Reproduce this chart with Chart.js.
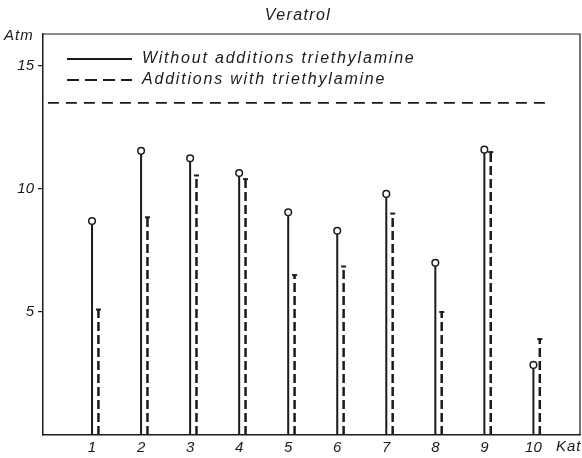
<!DOCTYPE html>
<html>
<head>
<meta charset="utf-8">
<script src="https://cdn.jsdelivr.net/npm/chart.js@4"></script>
<style>
  body { margin: 0; background: #fff; }
  #wrap { width: 582px; height: 458px; position: relative; }
</style>
</head>
<body>
<div id="wrap"><canvas id="myChart"></canvas></div>
<script>
// catalyst numbers and pressures (Atm)
var kats = [1, 2, 3, 4, 5, 6, 7, 8, 9, 10];
var withoutAdd = [8.7, 11.55, 11.25, 10.65, 9.05, 8.3, 9.8, 7.0, 11.6, 2.85];
var withTea = [5.1, 8.85, 10.55, 10.4, 6.5, 6.85, 9.0, 5.0, 11.5, 3.9];
var yTicks = [5, 10, 15];
var limitLine = 13.5;

var ink = '#1b1b1b';
var fontFamily = '"Liberation Sans", Arial, sans-serif';

// each stem is a vertical segment from 0 up to the value, split by a null point
var stems = function(values, shift) {
    var pts = [];
    for (var i = 0; i < kats.length; i++) {
        pts.push({x: kats[i] + shift, y: 0});
        pts.push({x: kats[i] + shift, y: values[i]});
        pts.push({x: kats[i] + shift, y: null});
    }
    return pts;
};

var topOnly = function(r) {
    return function(c) { return c.dataIndex % 3 === 1 ? r : 0; };
};

// title, axis names, frame and the legend inside the plot
var decor = {
    id: 'decor',
    afterDraw: function(chart) {
        var ctx = chart.ctx;
        var a = chart.chartArea;
        ctx.save();
        ctx.strokeStyle = ink;
        ctx.lineWidth = 1.2;
        ctx.beginPath();
        ctx.moveTo(a.left, a.top);
        ctx.lineTo(a.right, a.top);
        ctx.lineTo(a.right, a.bottom);
        ctx.stroke();

        ctx.fillStyle = ink;
        ctx.font = 'italic 16px ' + fontFamily;
        ctx.letterSpacing = '1.4px';
        ctx.textBaseline = 'middle';
        ctx.textAlign = 'center';
        ctx.fillText('Veratrol', 298, 16);
        ctx.font = 'italic 15px ' + fontFamily;
        ctx.letterSpacing = '1px';
        ctx.textAlign = 'left';
        ctx.fillText('Atm', 4, 36);
        ctx.fillText('Kat', 556, 447);

        // legend
        ctx.lineWidth = 2;
        ctx.beginPath();
        ctx.moveTo(67, 59);
        ctx.lineTo(132, 59);
        ctx.stroke();
        ctx.setLineDash([12, 6]);
        ctx.beginPath();
        ctx.moveTo(67, 80);
        ctx.lineTo(132, 80);
        ctx.stroke();
        ctx.setLineDash([]);
        ctx.font = 'italic 16px ' + fontFamily;
        ctx.letterSpacing = '1.8px';
        ctx.fillText('Without additions triethylamine', 142, 59);
        ctx.fillText('Additions with triethylamine', 142, 80);
        ctx.restore();
    }
};

var ctx = document.getElementById('myChart').getContext('2d');
var chart = new Chart(ctx, {
    type: 'line',
    data: {
        datasets: [{
            label: 'Without additions triethylamine',
            data: stems(withoutAdd, 0),
            borderColor: ink,
            borderWidth: 2,
            pointRadius: topOnly(3.3),
            pointBackgroundColor: '#fff',
            pointBorderColor: ink,
            pointBorderWidth: 1.5,
            spanGaps: false
        }, {
            label: 'Additions with triethylamine',
            data: stems(withTea, 0.13),
            borderColor: ink,
            borderWidth: 2.5,
            borderDash: [9, 4],
            pointStyle: 'line',
            pointRadius: topOnly(2.5),
            pointBorderColor: ink,
            pointBorderWidth: 2,
            spanGaps: false
        }, {
            label: 'limit',
            data: [{x: 0.1, y: limitLine}, {x: 10.25, y: limitLine}],
            borderColor: ink,
            borderWidth: 1.6,
            borderDash: [11, 7],
            pointRadius: 0
        }]
    },
    options: {
        responsive: true,
        maintainAspectRatio: false,
        animation: false,
        layout: { padding: { top: 34, right: 2, left: 0, bottom: 0 } },
        plugins: {
            legend: { display: false },
            title: { display: false },
            tooltip: { enabled: false }
        },
        scales: {
            x: {
                type: 'linear',
                min: 0,
                max: 10.95,
                afterFit: function(s) { s.height = 23; },
                afterBuildTicks: function(s) {
                    s.ticks = kats.map(function(k) { return {value: k}; });
                },
                grid: { display: false, drawTicks: false },
                border: { display: true, color: ink, width: 1.5 },
                ticks: {
                    color: ink,
                    padding: 4,
                    font: { family: fontFamily, size: 15, style: 'italic' },
                    callback: function(v) { return v; }
                }
            },
            y: {
                min: 0,
                max: 16.3,
                afterFit: function(s) { s.width = 43; },
                afterBuildTicks: function(s) {
                    s.ticks = yTicks.map(function(t) { return {value: t}; });
                },
                grid: { drawOnChartArea: false, drawTicks: true, tickLength: 5, color: ink, lineWidth: 1.2 },
                border: { display: true, color: ink, width: 1.5 },
                ticks: {
                    color: ink,
                    padding: 4,
                    font: { family: fontFamily, size: 15, style: 'italic' },
                    callback: function(v) { return v; }
                }
            }
        }
    },
    plugins: [decor]
});
</script>
</body>
</html>
